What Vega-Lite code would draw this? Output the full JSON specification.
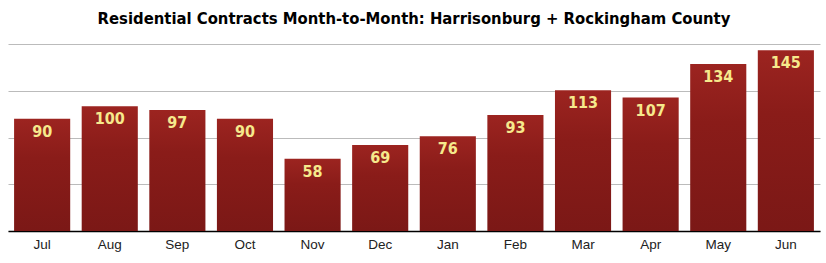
{
  "$schema": "https://vega.github.io/schema/vega-lite/v6.json",
  "autosize": "none",
  "width": 812,
  "height": 187,
  "padding": {"left": 8, "top": 44, "right": 6, "bottom": 32},
  "background": "white",
  "title": {
    "text": "Residential Contracts Month-to-Month: Harrisonburg + Rockingham County",
    "font": "DejaVu Sans Condensed",
    "fontSize": 16.5,
    "fontWeight": "bold",
    "color": "#000000",
    "anchor": "middle",
    "offset": 17
  },
  "data": {
    "values": [
      {"month": "Jul", "contracts": 90},
      {"month": "Aug", "contracts": 100},
      {"month": "Sep", "contracts": 97},
      {"month": "Oct", "contracts": 90},
      {"month": "Nov", "contracts": 58},
      {"month": "Dec", "contracts": 69},
      {"month": "Jan", "contracts": 76},
      {"month": "Feb", "contracts": 93},
      {"month": "Mar", "contracts": 113},
      {"month": "Apr", "contracts": 107},
      {"month": "May", "contracts": 134},
      {"month": "Jun", "contracts": 145}
    ]
  },
  "encoding": {
    "x": {
      "field": "month",
      "type": "nominal",
      "sort": null,
      "scale": {"paddingInner": 0.17, "paddingOuter": 0.09},
      "axis": {
        "title": null,
        "labelAngle": 0,
        "labelFont": "Liberation Sans",
        "labelFontSize": 13.5,
        "labelColor": "#222222",
        "labelPadding": 6,
        "ticks": false,
        "domainColor": "#000000",
        "domainWidth": 1.5
      }
    },
    "y": {
      "field": "contracts",
      "type": "quantitative",
      "scale": {"domain": [0, 150], "nice": false},
      "axis": {
        "title": null,
        "labels": false,
        "ticks": false,
        "domain": false,
        "values": [0, 37.5, 75, 112.5, 150],
        "gridColor": "#bbbbbb",
        "gridWidth": 1
      }
    }
  },
  "layer": [
    {
      "mark": {
        "type": "bar",
        "color": {
          "gradient": "linear",
          "x1": 0, "y1": 0, "x2": 0, "y2": 1,
          "stops": [
            {"offset": 0, "color": "#9c2420"},
            {"offset": 0.35, "color": "#8a1c19"},
            {"offset": 1, "color": "#7b1816"}
          ]
        }
      }
    },
    {
      "mark": {
        "type": "text",
        "baseline": "middle",
        "dy": 13,
        "font": "DejaVu Sans Condensed",
        "fontWeight": "bold",
        "fontSize": 16,
        "color": "#f6e98c"
      },
      "encoding": {"text": {"field": "contracts", "type": "quantitative"}}
    }
  ],
  "config": {"view": {"stroke": null}}
}
